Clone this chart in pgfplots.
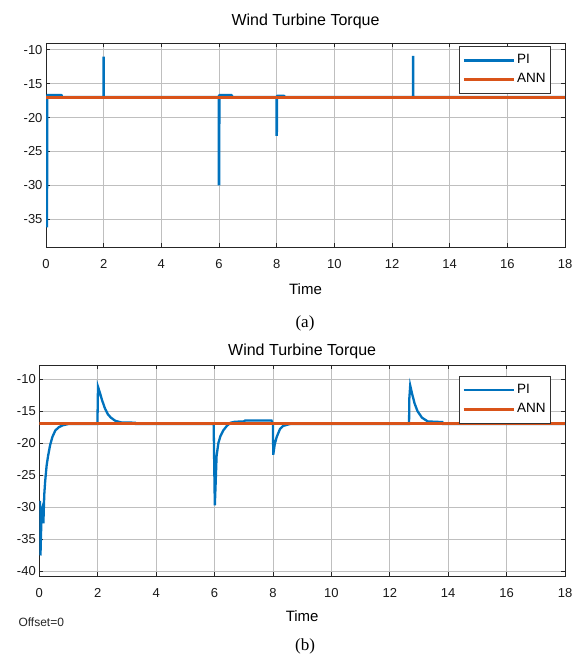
\documentclass[border=0pt]{standalone}
\usepackage{fontspec}
\setmainfont{Liberation Sans}
\newfontfamily\capfont{Liberation Serif}
\usepackage{pgfplots}
\pgfplotsset{compat=1.18}

\definecolor{mblue}{RGB}{0,114,189}
\definecolor{morange}{RGB}{217,83,25}

\pgfplotsset{
  mat/.style={
    scale only axis,
    xmin=0, xmax=18,
    xtick={0,2,...,18},
    grid=major,
    grid style={color=black!25, line width=0.6pt},
    axis line style={color=black!85, line width=0.7pt},
    tick align=inside,
    major tick length=4pt,
    tick style={color=black!85, line width=0.6pt},
    ticklabel style={font=\fontsize{13}{13}\selectfont, text=black!90},
    /pgf/number format/assume math mode=true,
    xticklabel style={anchor=center, yshift=-17pt},
    xlabel={Time},
    xlabel style={font=\fontsize{15}{15}\selectfont, at={(axis description cs:0.5,0)}, anchor=center},
    title style={font=\fontsize{16}{16}\selectfont, at={(axis description cs:0.5,1)}, anchor=center},
    legend style={draw=black!80, line width=0.6pt, fill=white,
      font=\fontsize{13.5}{13.5}\selectfont, inner xsep=3pt, inner ysep=4pt,
      nodes={inner sep=2pt, text height=11pt, text depth=4.5pt},
      cells={anchor=west}},
    legend image code/.code={\draw[#1, line width=2.8pt] (0pt,0pt) -- (50pt,0pt);},
  },
}

\begin{document}
\begin{tikzpicture}[x=1pt,y=1pt]
\path (0,0) rectangle (580,660);

% (a)
\begin{axis}[mat,
  at={(46pt,413pt)}, anchor=south west,
  width=519pt, height=204pt,
  ymin=-39.1, ymax=-9.0,
  ytick={-35,-30,...,-10},
  title={Wind Turbine Torque},
  title style={yshift=16pt},
  xlabel style={yshift=-42pt},
  legend style={at={(rel axis cs:0.973,0.985)}, anchor=north east},
]
\addplot[color=mblue, line width=2.6pt, line join=bevel] coordinates {
(0.03,-17)(0.03,-36.2)(0.04,-16.7)(0.54,-16.7)(0.55,-17)
(2,-17)(2,-11)(2,-17)
(6,-17)(6,-30)(6.01,-16.7)(6.44,-16.7)(6.45,-17)
(8,-17)(8,-22.7)(8.01,-16.8)(8.26,-16.8)(8.27,-17)
(12.73,-17)(12.73,-10.9)(12.73,-17)(18,-17)};
\addplot[color=morange, line width=3pt] coordinates {(0,-17)(18,-17)};
\legend{PI, ANN}
\end{axis}
\node[font=\capfont\fontsize{17}{17}\selectfont] at (305,337) {(a)};

% (b)
\begin{axis}[mat,
  at={(39.3pt,84pt)}, anchor=south west,
  width=525.7pt, height=211pt,
  ymin=-40.7, ymax=-7.8,
  ytick={-40,-35,...,-10},
  title={Wind Turbine Torque},
  title style={yshift=7.5pt},
  xlabel style={yshift=-40pt},
  legend style={at={(rel axis cs:0.973,0.948)}, anchor=north east},
]
\addplot[color=mblue, line width=2.3pt] coordinates {
(0.02,-29)(0.04,-37.5)(0.08,-30.5)(0.11,-30)(0.14,-32.5)(0.17,-28)
(0.2,-26)(0.25,-23.5)(0.3,-22)(0.37,-20.3)(0.45,-19)(0.55,-18)
(0.67,-17.5)(0.8,-17.2)(1,-17)
(1.99,-17)(2.01,-11.2)(2.08,-12.2)(2.15,-13.3)(2.25,-14.6)(2.35,-15.5)
(2.45,-16)(2.6,-16.5)(2.8,-16.75)(3.28,-16.8)(3.3,-17)
(5.97,-17)(5.99,-23.5)(6.01,-29.7)(6.04,-26)(6.07,-22)(6.13,-20)
(6.2,-18.9)(6.3,-18)(6.42,-17.3)(6.55,-16.8)(6.7,-16.65)(7.0,-16.6)
(7.05,-16.45)(7.95,-16.45)(8.0,-17)(8.01,-21.8)(8.06,-20.2)(8.13,-19)
(8.24,-17.8)(8.35,-17.3)(8.5,-17.1)(8.6,-17)
(12.66,-17)(12.67,-13)(12.7,-11)(12.76,-12.2)(12.85,-13.8)(12.95,-15)
(13.1,-16)(13.3,-16.6)(13.8,-16.7)(13.82,-17)(18,-17)};
\addplot[color=morange, line width=3pt] coordinates {(0,-17)(18,-17)};
\legend{PI, ANN}
\end{axis}
\node[anchor=west, font=\fontsize{12}{12}\selectfont, text=black!85] at (15,38) {Offset=0};
\node[font=\capfont\fontsize{17}{17}\selectfont] at (305,14) {(b)};
\end{tikzpicture}
\end{document}
